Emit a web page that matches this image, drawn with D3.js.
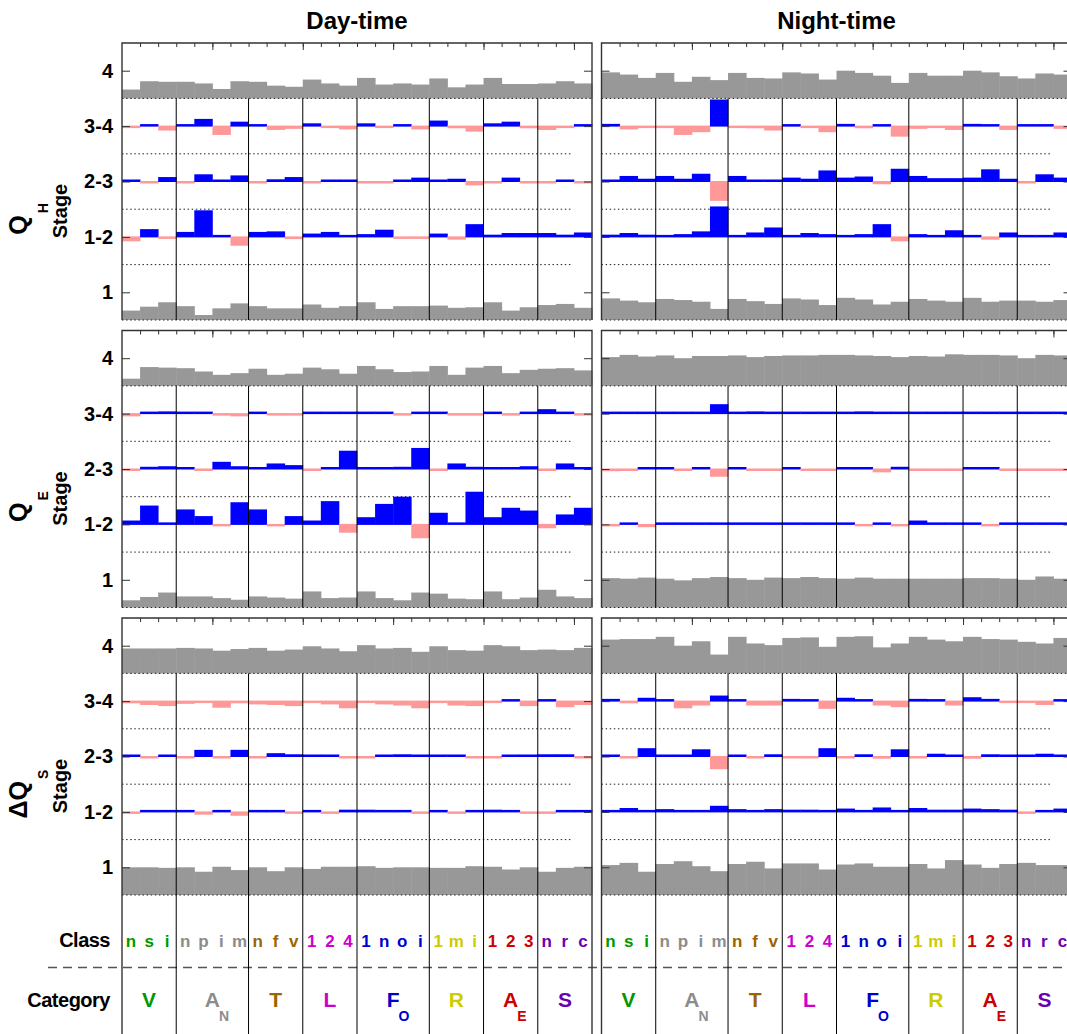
<!DOCTYPE html>
<html>
<head>
<meta charset="utf-8">
<script src="https://cdn.jsdelivr.net/npm/d3@7"></script>
<style>
    body { margin: 0; background: #fff; }
    text { font-family: "Liberation Sans", Arial, Helvetica, sans-serif; }
</style>
</head>
<body>
<svg id="chart" width="1067" height="1034"></svg>
<script>
// categories and classes along the x axis
const categoryNames = ["V", "A", "T", "L", "F", "R", "A", "S"];
const categorySubs = ["", "N", "", "", "O", "", "E", ""];
const classLabels = [["n", "s", "i"], ["n", "p", "i", "m"], ["n", "f", "v"], ["1", "2", "4"],
    ["1", "n", "o", "i"], ["1", "m", "i"], ["1", "2", "3"], ["n", "r", "c"]];
const stageTicks = ["1", "1-2", "2-3", "3-4", "4"];
const columnTitles = ["Day-time", "Night-time"];
const fluxNames = ["Q", "Q", "\u0394Q"];
const fluxSubs = ["H", "E", "S"];

// QH
const qhDayTop = [0.16,0.31,0.30,0.30,0.27,0.17,0.31,0.30,0.23,0.21,0.34,0.27,0.23,0.37,0.25,0.27,0.25,0.36,0.20,0.25,0.37,0.26,0.26,0.27,0.31,0.27];
const qhDay34 = [-0.01,0.03,-0.08,0.02,0.13,-0.16,0.08,0.02,-0.07,-0.05,0.05,-0.02,-0.06,0.05,-0.02,0.02,-0.06,0.10,-0.04,-0.10,0.05,0.08,-0.04,-0.07,-0.01,0.02];
const qhDay23 = [0.02,-0.02,0.08,-0.03,0.13,0.03,0.11,-0.03,0.04,0.08,-0.02,0.01,0.01,-0.02,-0.02,0.03,0.07,0.03,0.05,-0.07,-0.02,0.07,-0.01,-0.01,0.03,-0.01];
const qhDay12 = [-0.08,0.14,-0.03,0.09,0.48,0.02,-0.16,0.09,0.10,-0.04,0.06,0.09,0.01,0.05,0.13,-0.02,-0.02,0.06,-0.05,0.23,0.04,0.07,0.07,0.07,0.04,0.08];
const qhDayBottom = [0.17,0.24,0.32,0.25,0.09,0.21,0.30,0.25,0.21,0.21,0.28,0.22,0.25,0.32,0.20,0.25,0.25,0.26,0.22,0.23,0.32,0.17,0.23,0.27,0.29,0.22];

const qhNightTop = [0.47,0.43,0.37,0.46,0.30,0.39,0.33,0.46,0.37,0.36,0.47,0.45,0.34,0.50,0.46,0.41,0.28,0.46,0.41,0.41,0.50,0.47,0.40,0.36,0.45,0.43];
const qhNight34 = [0.04,-0.06,-0.02,-0.02,-0.16,-0.11,0.48,-0.03,-0.04,-0.08,0.03,-0.03,-0.11,0.04,-0.04,0.03,-0.19,-0.05,-0.02,-0.07,0.04,0.02,-0.07,0.02,0.01,-0.05];
const qhNight23 = [0.02,0.10,0.05,0.10,0.05,0.14,-0.35,0.10,0.02,0.02,0.07,0.05,0.20,0.07,0.09,-0.05,0.23,0.10,0.06,0.06,0.07,0.22,0.05,-0.01,0.13,0.07];
const qhNight12 = [0.04,0.07,0.04,0.01,0.05,0.10,0.55,0.03,0.08,0.17,0.01,0.07,0.05,0.02,0.05,0.23,-0.08,0.05,0.03,0.12,0.02,-0.05,0.08,0.01,0.03,0.08];
const qhNightBottom = [0.39,0.35,0.32,0.38,0.36,0.33,0.20,0.38,0.34,0.29,0.39,0.37,0.27,0.40,0.37,0.28,0.33,0.38,0.35,0.33,0.40,0.33,0.35,0.35,0.33,0.36];

// QE
const qeDayTop = [0.13,0.34,0.33,0.32,0.26,0.20,0.23,0.31,0.20,0.22,0.33,0.30,0.22,0.36,0.30,0.25,0.26,0.36,0.20,0.33,0.36,0.23,0.29,0.31,0.32,0.28];
const qeDay34 = [-0.05,0.01,0.04,0.02,0.01,-0.02,-0.05,0.02,-0.01,-0.01,0.02,0.01,0.01,0.02,0.01,-0.02,0.03,0.02,-0.01,-0.01,0.02,-0.01,0.02,0.08,0.01,-0.01];
const qeDay23 = [-0.01,0.04,0.05,0.03,-0.02,0.13,0.05,0.02,0.10,0.07,-0.01,0.02,0.33,0.01,0.01,0.04,0.38,-0.01,0.10,0.04,0.01,0.01,0.05,-0.03,0.10,0.03];
const qeDay12 = [0.07,0.34,0.03,0.27,0.15,-0.01,0.40,0.27,-0.01,0.15,0.07,0.42,-0.15,0.13,0.37,0.50,-0.25,0.21,0.03,0.59,0.13,0.30,0.25,-0.07,0.18,0.30];
const qeDayBottom = [0.13,0.19,0.27,0.20,0.20,0.17,0.14,0.20,0.18,0.16,0.29,0.17,0.18,0.29,0.17,0.13,0.27,0.25,0.16,0.15,0.29,0.15,0.18,0.32,0.20,0.17];

const qeNightTop = [0.52,0.56,0.53,0.55,0.50,0.54,0.54,0.55,0.52,0.54,0.55,0.55,0.56,0.56,0.55,0.54,0.52,0.54,0.53,0.57,0.56,0.56,0.55,0.50,0.56,0.55];
const qeNight34 = [0.03,0.01,0.02,0.02,0.01,0.01,0.17,0.01,0.04,0.01,0.02,0.01,0.01,0.02,0.04,0.01,0.01,0.03,0.01,0.01,0.01,0.03,0.01,0.01,0.02,0.02];
const qeNight23 = [-0.04,-0.01,0.02,0.01,-0.03,0.01,-0.14,0.02,-0.01,-0.03,0.01,-0.01,-0.01,0.01,0.01,-0.06,0.04,-0.01,-0.01,-0.01,0.01,0.01,-0.01,-0.01,-0.01,-0.01];
const qeNight12 = [-0.01,0.03,-0.05,0.01,0.03,0.01,0.01,0.01,0.02,0.01,0.01,0.02,0.01,0.03,-0.03,0.01,-0.03,0.07,0.03,0.03,0.01,-0.01,0.01,0.01,0.01,0.01];
const qeNightBottom = [0.53,0.52,0.54,0.52,0.49,0.53,0.55,0.53,0.50,0.54,0.53,0.55,0.53,0.52,0.54,0.52,0.52,0.52,0.52,0.52,0.53,0.53,0.52,0.50,0.56,0.52];

// dQS
const dqsDayTop = [0.45,0.45,0.45,0.46,0.45,0.41,0.44,0.46,0.41,0.43,0.49,0.45,0.40,0.51,0.45,0.46,0.39,0.49,0.42,0.41,0.51,0.49,0.42,0.43,0.42,0.46];
const dqsDay34 = [-0.04,-0.07,-0.09,-0.05,-0.02,-0.12,-0.04,-0.06,-0.07,-0.09,-0.02,-0.06,-0.13,-0.03,-0.06,-0.08,-0.13,-0.03,-0.08,-0.09,-0.02,0.01,-0.09,0.01,-0.11,-0.07];
const dqsDay23 = [0.02,-0.01,0.03,-0.01,0.12,-0.01,0.12,-0.01,0.06,0.04,0.02,0.02,-0.01,-0.01,0.01,0.04,0.02,0.02,0.03,-0.02,-0.01,0.01,0.02,0.04,0.04,-0.01];
const dqsDay12 = [-0.03,0.01,0.02,0.02,-0.05,0.02,-0.07,0.02,0.01,-0.02,0.03,-0.02,0.04,0.04,0.01,0.01,-0.01,0.03,-0.02,0.01,0.04,0.03,-0.01,-0.02,0.01,0.01];
const dqsDayBottom = [0.50,0.50,0.49,0.50,0.42,0.51,0.45,0.50,0.43,0.50,0.47,0.51,0.51,0.52,0.49,0.50,0.50,0.49,0.49,0.52,0.51,0.46,0.50,0.42,0.49,0.51];

const dqsNightTop = [0.61,0.62,0.62,0.66,0.50,0.58,0.34,0.66,0.54,0.51,0.64,0.65,0.48,0.66,0.67,0.47,0.54,0.66,0.61,0.58,0.66,0.62,0.61,0.57,0.54,0.64];
const dqsNight34 = [0.04,-0.04,0.06,0.03,-0.13,-0.08,0.10,0.03,-0.08,-0.08,0.04,0.03,-0.14,0.06,0.03,-0.08,-0.11,0.04,0.02,-0.08,0.07,0.04,-0.03,-0.02,-0.07,0.02];
const dqsNight23 = [0.02,-0.01,0.15,0.02,0.01,0.13,-0.23,0.02,-0.01,0.04,-0.02,-0.02,0.15,-0.03,0.04,-0.04,0.13,-0.02,0.05,0.01,-0.04,0.04,0.02,0.01,0.05,0.02];
const dqsNight12 = [0.01,0.07,0.01,0.05,0.02,0.02,0.11,0.05,0.02,0.05,0.04,0.04,0.02,0.06,0.03,0.08,0.02,0.07,0.04,0.04,0.06,0.05,0.04,-0.02,0.02,0.06];
const dqsNightBottom = [0.54,0.58,0.42,0.56,0.61,0.52,0.43,0.56,0.60,0.48,0.57,0.57,0.46,0.55,0.57,0.51,0.51,0.56,0.48,0.63,0.55,0.49,0.56,0.58,0.54,0.54];

const categoryColors = ["#009900", "#8c8c8c", "#9c6400", "#cc00cc", "#0000cc", "#cccc00", "#cc0000", "#6a00b0"];

class StagePanel {
    constructor(svg, left, top, width = 470, height = 277) {
        this.svg = svg;
        this.left = left;
        this.top = top;
        this.width = width;
        this.height = height;
    }

    initialize(showLabels) {
        this.showLabels = showLabels;
        this.container = this.svg.append("g")
            .attr("transform", `translate(${this.left}, ${this.top})`);
        this.nClasses = d3.sum(classLabels, c => c.length);
        this.x = d3.scaleBand().domain(d3.range(this.nClasses)).range([0, this.width]);
        this.xs = d3.scaleLinear().domain([0, this.nClasses]).range([0, this.width]);
        this.y = d3.scaleLinear().domain([-0.5, 4.5]).range([this.height, 0]);
    }

    update(data) {
        const g = this.container, x = this.x, y = this.y, bw = x.bandwidth();

        // grey share of stage 4 (top) and stage 1 (bottom)
        g.append("g").selectAll("rect").data(data.top).join("rect")
            .attr("x", (d, i) => x(i)).attr("width", bw + 0.5)
            .attr("y", d => y(3.5 + d)).attr("height", d => y(3.5) - y(3.5 + d))
            .attr("fill", "#989898");
        g.append("g").selectAll("rect").data(data.bottom).join("rect")
            .attr("x", (d, i) => x(i)).attr("width", bw + 0.5)
            .attr("y", d => y(-0.5 + d)).attr("height", d => y(-0.5) - y(-0.5 + d))
            .attr("fill", "#989898");

        // dotted separators between stages
        g.append("g").selectAll("line").data([-0.5, 0.5, 1.5, 2.5, 3.5]).join("line")
            .attr("x1", 0)
            .attr("x2", d => (d === 3.5 || d === -0.5) ? this.width : this.width - 20)
            .attr("y1", d => y(d)).attr("y2", d => y(d))
            .attr("stroke", "#222").attr("stroke-width", 1)
            .attr("stroke-dasharray", "1.5,2.6");

        // transition bars
        [data.s12, data.s23, data.s34].forEach((vals, k) => {
            const base = k + 1;
            const y0 = y(base);
            g.append("g").selectAll("rect").data(vals).join("rect")
                .attr("x", (d, i) => x(i)).attr("width", bw + 0.4)
                .attr("y", d => d >= 0 ? Math.min(y(base + d), y0 - 2) : y0 - 0.5)
                .attr("height", d => d >= 0
                    ? y0 + 0.5 - Math.min(y(base + d), y0 - 2)
                    : Math.max(y(base + d), y0 + 2) - (y0 - 0.5))
                .attr("fill", d => d >= 0 ? "#0000ff" : "#ff9999");
        });

        // category dividers
        const bounds = d3.cumsum(classLabels.map(c => c.length)).slice(0, -1);
        g.append("g").selectAll("line").data(bounds).join("line")
            .attr("x1", d => this.xs(d)).attr("x2", d => this.xs(d))
            .attr("y1", y(3.5)).attr("y2", y(-0.5))
            .attr("stroke", "#000").attr("stroke-width", 1);

        // axes
        const left = g.append("g")
            .call(d3.axisLeft(y).tickValues([0, 1, 2, 3, 4]).tickSize(-8).tickPadding(9)
                .tickFormat(i => this.showLabels ? stageTicks[i] : ""));
        left.select(".domain").remove();
        left.selectAll("text").attr("font-size", 20).attr("font-weight", "bold")
            .attr("font-family", "Liberation Sans, Arial, sans-serif").attr("fill", "#000");
        left.selectAll("line").attr("stroke", "#333");

        const right = g.append("g").attr("transform", `translate(${this.width}, 0)`)
            .call(d3.axisRight(y).tickValues([0, 1, 2, 3, 4]).tickSize(-8).tickFormat(""));
        right.select(".domain").remove();
        right.selectAll("line").attr("stroke", "#333");

        const topMinor = g.append("g")
            .call(d3.axisTop(this.xs).tickValues(d3.range(1, this.nClasses)).tickSize(-4).tickFormat(""));
        topMinor.select(".domain").remove();
        topMinor.selectAll("line").attr("stroke", "#333");
        const topMajor = g.append("g")
            .call(d3.axisTop(this.xs).tickValues([5, 10, 15, 20, 25]).tickSize(-7).tickFormat(""));
        topMajor.select(".domain").remove();
        topMajor.selectAll("line").attr("stroke", "#333");

        // frame
        g.append("path")
            .attr("d", `M0,${this.height}V0H${this.width}V${this.height}`)
            .attr("fill", "none").attr("stroke", "#333").attr("stroke-width", 1.4);
    }
}

const svg = d3.select("#chart");
const panelLeft = [122, 601.5];
const panelTop = [43, 330.5, 618];
const panelData = [
    [{top: qhDayTop, s34: qhDay34, s23: qhDay23, s12: qhDay12, bottom: qhDayBottom},
     {top: qhNightTop, s34: qhNight34, s23: qhNight23, s12: qhNight12, bottom: qhNightBottom}],
    [{top: qeDayTop, s34: qeDay34, s23: qeDay23, s12: qeDay12, bottom: qeDayBottom},
     {top: qeNightTop, s34: qeNight34, s23: qeNight23, s12: qeNight12, bottom: qeNightBottom}],
    [{top: dqsDayTop, s34: dqsDay34, s23: dqsDay23, s12: dqsDay12, bottom: dqsDayBottom},
     {top: dqsNightTop, s34: dqsNight34, s23: dqsNight23, s12: dqsNight12, bottom: dqsNightBottom}]
];

panelData.forEach((row, r) => {
    row.forEach((d, c) => {
        const p = new StagePanel(svg, panelLeft[c], panelTop[r]);
        p.initialize(c === 0);
        p.update(d);
    });

    // row labels
    const lab = svg.append("text")
        .attr("transform", `translate(27, ${panelTop[r] + 176}) rotate(-90)`)
        .attr("text-anchor", "middle").attr("font-weight", "bold");
    lab.append("tspan").attr("font-size", 25).text(fluxNames[r]);
    lab.append("tspan").attr("font-size", 14).attr("dy", 21).attr("dx", 2).text(fluxSubs[r]);

    svg.append("text")
        .attr("transform", `translate(67, ${panelTop[r] + 168}) rotate(-90)`)
        .attr("text-anchor", "middle").attr("font-weight", "bold").attr("font-size", 20)
        .text("Stage");
});

// column titles
columnTitles.forEach((t, c) => {
    svg.append("text")
        .attr("x", panelLeft[c] + 235).attr("y", 29)
        .attr("text-anchor", "middle").attr("font-weight", "bold").attr("font-size", 24)
        .text(t);
});

// class / category labels under the panels
const labelTop = panelTop[2] + 277;
const classes = classLabels.flatMap((c, k) => c.map(l => ({label: l, cat: k})));
const catStart = [0, ...d3.cumsum(classLabels.map(c => c.length))];

svg.append("line")
    .attr("x1", 48).attr("x2", 1067).attr("y1", 967.5).attr("y2", 967.5)
    .attr("stroke", "#555").attr("stroke-width", 1.3).attr("stroke-dasharray", "9,6");

panelLeft.forEach(left => {
    const x = d3.scaleBand().domain(d3.range(classes.length)).range([left, left + 470]);
    const xs = d3.scaleLinear().domain([0, classes.length]).range([left, left + 470]);

    svg.append("g").selectAll("line").data(catStart).join("line")
        .attr("x1", d => xs(d)).attr("x2", d => xs(d))
        .attr("y1", labelTop).attr("y2", 1034)
        .attr("stroke", d => (d === 0 || d === classes.length) ? "#333" : "#000")
        .attr("stroke-width", d => (d === 0 || d === classes.length) ? 1.4 : 1);

    svg.append("g").selectAll("text").data(classes).join("text")
        .attr("x", (d, i) => x(i) + x.bandwidth() / 2).attr("y", 947)
        .attr("text-anchor", "middle").attr("font-weight", "bold").attr("font-size", 17)
        .attr("fill", d => categoryColors[d.cat])
        .text(d => d.label);

    categoryNames.forEach((name, k) => {
        const cx = (xs(catStart[k]) + xs(catStart[k + 1])) / 2;
        const t = svg.append("text")
            .attr("x", cx).attr("y", 1007)
            .attr("text-anchor", "middle").attr("font-weight", "bold").attr("font-size", 21)
            .attr("fill", categoryColors[k]).text(name);
        if (categorySubs[k]) {
            const w = t.node().getComputedTextLength();
            svg.append("text")
                .attr("x", cx + w / 2 - 1).attr("y", 1021)
                .attr("font-weight", "bold").attr("font-size", 14)
                .attr("fill", categoryColors[k]).text(categorySubs[k]);
        }
    });
});

svg.append("text").attr("x", 110).attr("y", 947).attr("text-anchor", "end")
    .attr("font-weight", "bold").attr("font-size", 20).attr("letter-spacing", -0.5).text("Class");
svg.append("text").attr("x", 110).attr("y", 1007).attr("text-anchor", "end")
    .attr("font-weight", "bold").attr("font-size", 20).attr("letter-spacing", -0.5).text("Category");
</script>
</body>
</html>
